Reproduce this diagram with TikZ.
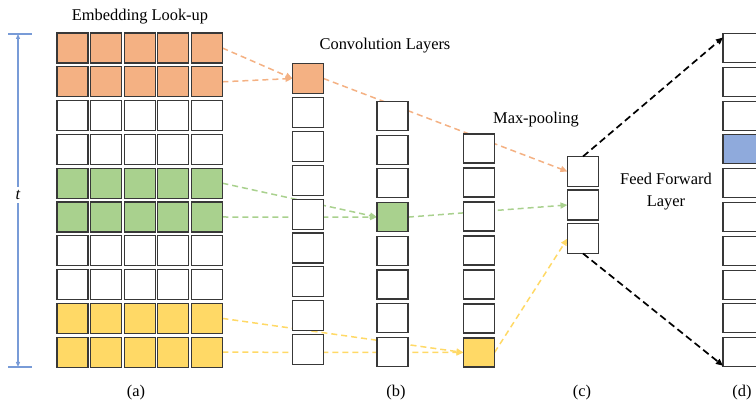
\documentclass[tikz,border=0pt]{standalone}
\usepackage{fontspec}
\setmainfont{Liberation Serif}
\usetikzlibrary{arrows.meta,backgrounds,calc}
\definecolor{corange}{HTML}{F4B183}
\definecolor{cgreen}{HTML}{A9D18E}
\definecolor{cyellow}{HTML}{FFD966}
\definecolor{cblue}{HTML}{8FAADC}
\definecolor{cdim}{RGB}{120,155,215}
\begin{document}
\begin{tikzpicture}[x=1pt,y=-1pt,
  cell/.style={draw=black!78, line width=1.1pt, fill=white, minimum width=31pt, minimum height=30pt, inner sep=0pt, outer sep=0pt},
  conn/.style={draw=#1, line width=1.5pt, dash pattern=on 6pt off 4pt, -{Triangle[length=7pt,width=6pt]}},
  bconn/.style={draw=black, line width=1.7pt, dash pattern=on 7pt off 4pt, -{Triangle[length=7pt,width=6pt]}},
  dim/.style={draw=cdim, line width=1.1pt},
  lbl/.style={font=\fontsize{16.4}{22}\selectfont, inner sep=0pt, align=center}]
\useasboundingbox (0,0) rectangle (756,403);

% embedding grid
\foreach \r/\fc in {1/corange,2/corange,3/white,4/white,5/cgreen,6/cgreen,7/white,8/white,9/cyellow,10/cyellow}
  \foreach \c in {1,...,5}
    \node[cell, fill=\fc] (e-\r-\c) at ({72.5+(\c-1)*33.6},{48+(\r-1)*33.8}) {};

% convolution column 1
\foreach \i/\fc in {1/corange,2/white,3/white,4/white,5/white,6/white,7/white,8/white,9/white}
  \node[cell, fill=\fc] (a-\i) at (308,{78.5+(\i-1)*33.9}) {};
% convolution column 2
\foreach \i/\fc in {1/white,2/white,3/white,4/cgreen,5/white,6/white,7/white,8/white}
  \node[cell, fill=\fc, minimum height=29pt] (b-\i) at (392.5,{116+(\i-1)*33.7}) {};
% convolution column 3
\foreach \i/\fc in {1/white,2/white,3/white,4/white,5/white,6/white,7/cyellow}
  \node[cell, fill=\fc, minimum height=29pt] (m-\i) at (479,{148.5+(\i-1)*34}) {};
% max-pooling column
\foreach \i in {1,2,3}
  \node[cell] (c-\i) at (583,{171.5+(\i-1)*33.5}) {};
% feed forward column (clipped at the right edge)
\begin{scope}
\clip (0,0) rectangle (756,403);
\foreach \i/\fc in {1/white,2/white,3/white,4/cblue,5/white,6/white,7/white,8/white,9/white,10/white}
  \node[cell, fill=\fc, minimum width=40pt, minimum height=29pt] (d-\i) at (743,{48+(\i-1)*33.8}) {};
\end{scope}

% connectors behind the cells
\begin{pgfonlayer}{background}
\draw[conn=corange] (e-1-5.east) -- (a-1.west);
\draw[conn=corange] (e-2-5.east) -- (a-1.west);
\draw[conn=corange] (a-1.east) -- (c-1.west);
\draw[conn=cgreen] (e-5-5.east) -- (b-4.west);
\draw[conn=cgreen] (e-6-5.east) -- (b-4.west);
\draw[conn=cgreen] (b-4.east) -- (c-2.west);
\draw[conn=cyellow] (e-9-5.east) -- (m-7.west);
\draw[conn=cyellow] (e-10-5.east) -- (m-7.west);
\draw[conn=cyellow] (m-7.east) -- (c-3.west);
\end{pgfonlayer}
\draw[bconn] (c-1.north) -- ($(d-1.north west)+(0,4)$);
\draw[bconn] (c-3.south) -- ($(d-10.south west)+(0,-1)$);

% dimension t
\coordinate (dt) at (18,34);
\coordinate (db) at (18,367);
\coordinate (dtl) at (8,34);
\coordinate (dtr) at (32,34);
\coordinate (dbl) at (8,367);
\coordinate (dbr) at (32,367);
\draw[dim] (dtl) -- (dtr);
\draw[dim] (dbl) -- (dbr);
\draw[dim, {Triangle[length=5pt,width=4pt]}-{Triangle[length=5pt,width=4pt]}] (dt) -- (db);
\node[lbl, fill=white, inner sep=3pt, font=\fontsize{16.4}{22}\selectfont\itshape] (tlab) at (18,195) {t};

% labels
\node[lbl] (l-emb) at (140,17) {Embedding Look-up};
\node[lbl] (l-conv) at (385,46) {Convolution Layers};
\node[lbl] (l-max) at (536,120) {Max-pooling};
\node[lbl] (l-ff) at (666,192) {Feed Forward\\Layer};
\node[lbl] (l-a) at (136,393) {(a)};
\node[lbl] (l-b) at (396,393) {(b)};
\node[lbl] (l-c) at (582,393) {(c)};
\node[lbl] (l-d) at (742,393) {(d)};
\end{tikzpicture}
\end{document}
